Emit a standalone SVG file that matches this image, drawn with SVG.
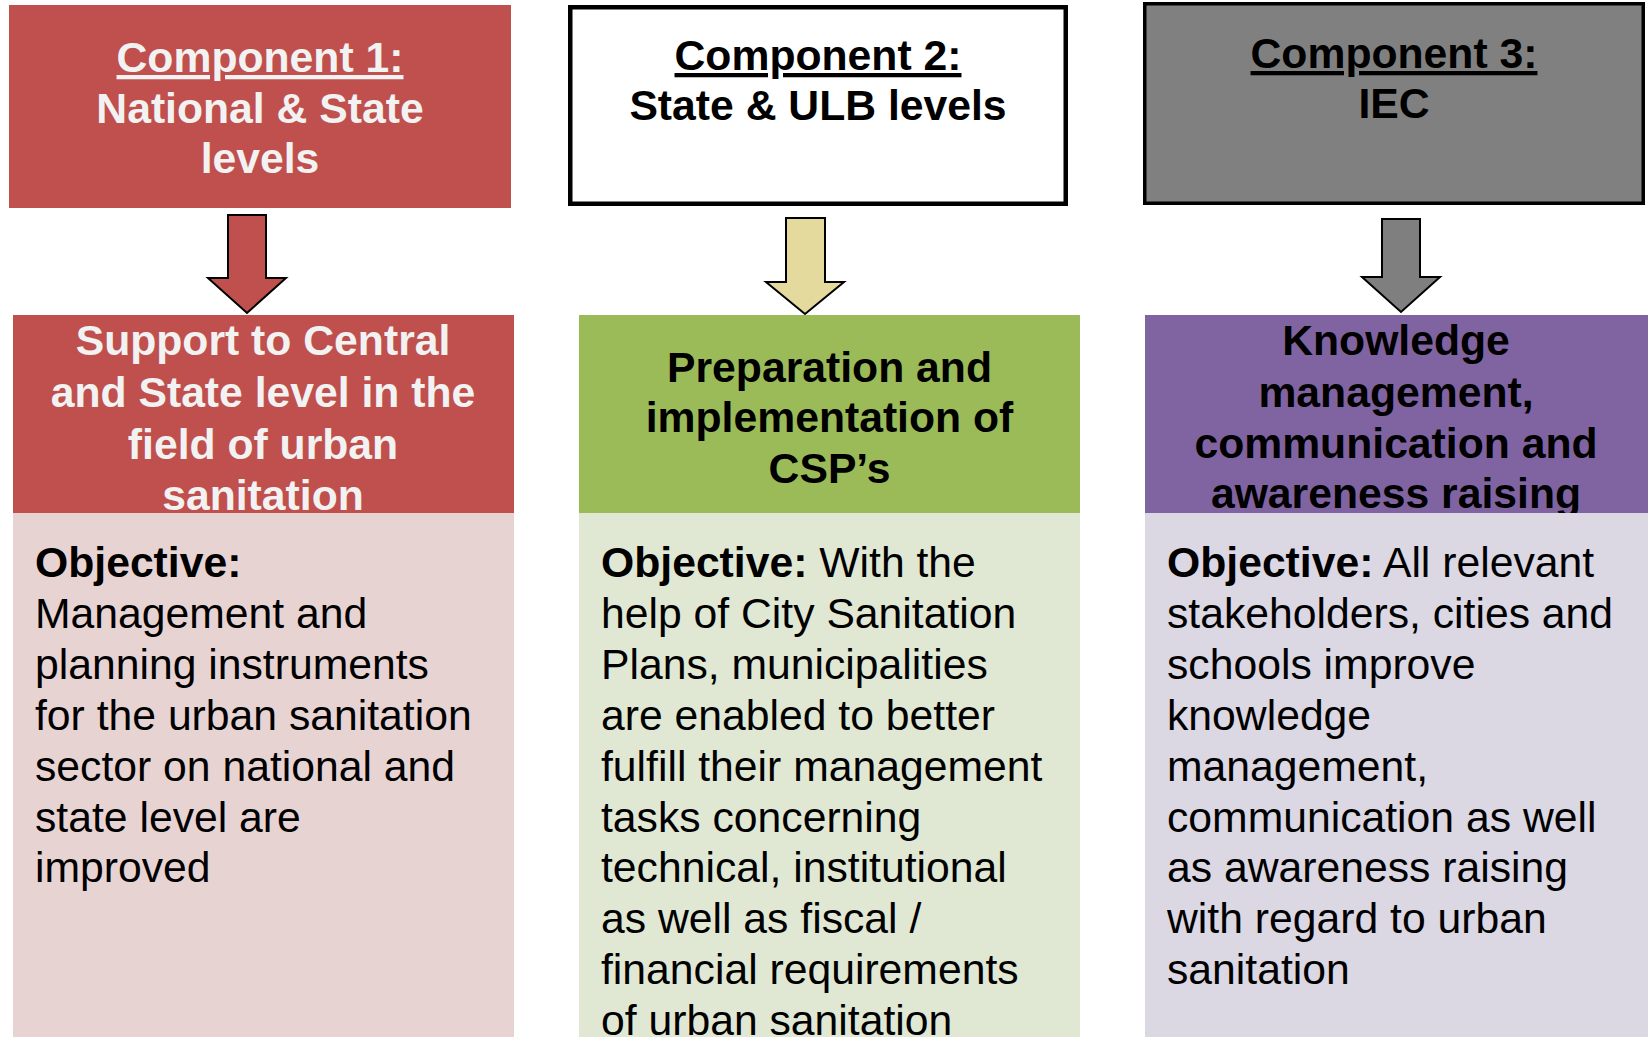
<svg xmlns="http://www.w3.org/2000/svg" width="1648" height="1037" viewBox="0 0 1648 1037">
<style>
text{font-family:"Liberation Sans",Arial,Helvetica,sans-serif;font-size:42.7px}
.b{font-weight:bold}
.c{text-anchor:middle}
.lt{fill:#F2F2F2}
.dk{fill:#000}
.u{text-decoration:underline}
.arrow{stroke:#000;stroke-width:2;stroke-linejoin:miter}
</style>
<rect width="1648" height="1037" fill="#fff"/>

<g id="component1">
<rect x="9" y="5" width="502" height="203" fill="#C0504D"/>
<text class="b c lt" x="260" y="72"><tspan class="u">Component 1:</tspan></text>
<text class="b c lt" x="260" y="123">National &amp; State</text>
<text class="b c lt" x="260" y="173">levels</text>
</g>

<g id="component2">
<rect x="570.25" y="7.25" width="495.5" height="196.5" fill="#fff" stroke="#000" stroke-width="4.5"/>
<text class="b c dk" x="818" y="70"><tspan class="u">Component 2:</tspan></text>
<text class="b c dk" x="818" y="120">State &amp; ULB levels</text>
</g>

<g id="component3">
<rect x="1144.75" y="3.75" width="498.5" height="199.5" fill="#808080" stroke="#000" stroke-width="3.5"/>
<text class="b c dk" x="1394" y="68"><tspan class="u">Component 3:</tspan></text>
<text class="b c dk" x="1394" y="118">IEC</text>
</g>

<g id="connectors">
<polygon class="arrow" fill="#C0504D" points="228,215 266,215 266,278 286,278 247,313 208,278 228,278"/>
<polygon class="arrow" fill="#E4DA9E" points="786,218 825,218 825,282 844,282 805,314 766,282 786,282"/>
<polygon class="arrow" fill="#7F7F7F" points="1382,219 1420,219 1420,277 1440,277 1401,312 1362,277 1382,277"/>
</g>

<g id="output1">
<rect x="13" y="315" width="501" height="198" fill="#C0504D"/>
<text class="b c lt" x="263" y="355">Support to Central</text>
<text class="b c lt" x="263" y="407">and State level in the</text>
<text class="b c lt" x="263" y="459">field of urban</text>
<text class="b c lt" x="263" y="510">sanitation</text>
<rect x="13" y="513" width="501" height="524" fill="#E8D3D3"/>
<text x="35" y="577" class="b">Objective:</text>
<text x="35" y="628">Management and</text>
<text x="35" y="679">planning instruments</text>
<text x="35" y="730">for the urban sanitation</text>
<text x="35" y="781">sector on national and</text>
<text x="35" y="832">state level are</text>
<text x="35" y="882">improved</text>
</g>

<g id="output2">
<rect x="579" y="315" width="501" height="198" fill="#9BBB59"/>
<text class="b c dk" x="829.5" y="382">Preparation and</text>
<text class="b c dk" x="829.5" y="432">implementation of</text>
<text class="b c dk" x="829.5" y="483">CSP’s</text>
<rect x="579" y="513" width="501" height="524" fill="#E0E8D4"/>
<text x="601" y="577"><tspan class="b">Objective:</tspan> With the</text>
<text x="601" y="628">help of City Sanitation</text>
<text x="601" y="679">Plans, municipalities</text>
<text x="601" y="730">are enabled to better</text>
<text x="601" y="781">fulfill their management</text>
<text x="601" y="832">tasks concerning</text>
<text x="601" y="882">technical, institutional</text>
<text x="601" y="933">as well as fiscal /</text>
<text x="601" y="984">financial requirements</text>
<text x="601" y="1035">of urban sanitation</text>
</g>

<g id="output3">
<rect x="1145" y="315" width="503" height="198" fill="#8064A2"/>
<text class="b c dk" x="1396" y="355">Knowledge</text>
<text class="b c dk" x="1396" y="407">management,</text>
<text class="b c dk" x="1396" y="458">communication and</text>
<text class="b c dk" x="1396" y="508">awareness raising</text>
<rect x="1145" y="513" width="503" height="524" fill="#DBD7E3"/>
<text x="1167" y="577"><tspan class="b">Objective:</tspan> All relevant</text>
<text x="1167" y="628">stakeholders, cities and</text>
<text x="1167" y="679">schools improve</text>
<text x="1167" y="730">knowledge</text>
<text x="1167" y="781">management,</text>
<text x="1167" y="832">communication as well</text>
<text x="1167" y="882">as awareness raising</text>
<text x="1167" y="933">with regard to urban</text>
<text x="1167" y="984">sanitation</text>
</g>
</svg>
